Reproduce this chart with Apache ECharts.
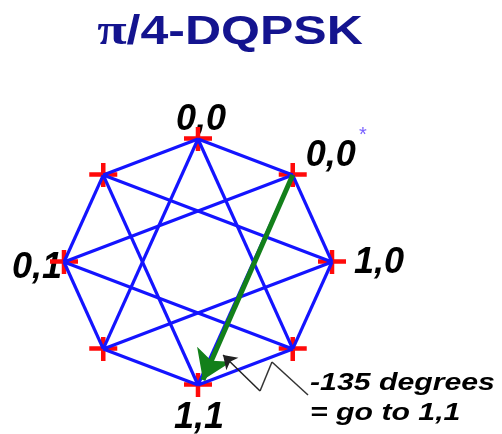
<!DOCTYPE html>
<html>
<head>
<meta charset="utf-8">
<script src="https://cdn.jsdelivr.net/npm/echarts@6/dist/echarts.min.js"></script>
<style>
html,body{margin:0;padding:0;background:#fff;}
#chart{width:502px;height:434px;}
</style>
</head>
<body>
<div id="chart"></div>
<script>
// Constellation points (I, Q) in order: top, top-right, right, bottom-right, bottom, bottom-left, left, top-left
const points = [[0, 1], [0.707, 0.707], [1, 0], [0.707, -0.707], [0, -1], [-0.707, -0.707], [-1, 0], [-0.707, 0.707]];
const pointLabels = ['0,0', '0,0', '1,0', '', '1,1', '', '0,1', ''];
// Transitions drawn between points (index pairs)
const octagonEdges = [[0, 1], [1, 2], [2, 3], [3, 4], [4, 5], [5, 6], [6, 7], [7, 0]];
const starEdges = [[0, 3], [3, 6], [6, 1], [1, 4], [4, 7], [7, 2], [2, 5], [5, 0]];
// Highlighted transition (-135 degrees): from point 1 to point 4
const transition = [1, 4];
const titleText = 'π/4-DQPSK';
const noteLines = ['-135 degrees', '= go to 1,1'];

// styling (separate from data)
const labelOffsets = [[3, -19], [38, -19], [47, 1], [0, 0], [1, 33], [0, 0], [-27, 6], [0, 0]];

const chart = echarts.init(document.getElementById('chart'), null, {renderer: 'canvas'});

const edgeData = octagonEdges.concat(starEdges).map(e => ({coords: [points[e[0]], points[e[1]]]}));

// arrow tip stops just short of the target point
const pFrom = points[transition[0]], pTo = points[transition[1]];
const arrowEnd = [pTo[0] + 0.037, pTo[1] + 0.041];

const labelData = points.map((p, i) => ({
  value: p,
  label: {show: pointLabels[i] !== '', formatter: pointLabels[i], offset: labelOffsets[i]}
}));

const labelFont = {fontFamily: 'Liberation Sans', fontWeight: 'bold', fontStyle: 'italic', fontSize: 36, color: '#000', opacity: 1};

const option = {
  animation: false,
  backgroundColor: '#fff',
  grid: {left: 10.4, top: 114.4, width: 375.2, height: 295.2},
  xAxis: {type: 'value', min: -1.4, max: 1.4, show: false},
  yAxis: {type: 'value', min: -1.2, max: 1.2, show: false},
  series: [
    {
      type: 'scatter', z: 1, symbolSize: 0, silent: true,
      itemStyle: {opacity: 1},
      label: Object.assign({position: 'inside', align: 'center', verticalAlign: 'middle'}, labelFont),
      data: labelData
    },
    {
      type: 'scatter', z: 2, silent: true,
      symbol: 'path://M0,9.25H28V13.75H0Z M11.75,0H16.25V24H11.75Z',
      symbolSize: [28, 24],
      itemStyle: {color: '#ff0a0a', opacity: 1},
      data: points
    },
    {
      type: 'lines', coordinateSystem: 'cartesian2d', z: 3, silent: true,
      symbol: 'none',
      lineStyle: {color: '#1414ff', width: 3.2, opacity: 1},
      data: edgeData
    },
    {
      type: 'lines', coordinateSystem: 'cartesian2d', z: 4, silent: true,
      symbol: ['none', 'arrow'], symbolSize: 28,
      lineStyle: {color: '#13801a', width: 5, opacity: 1},
      data: [{coords: [pFrom, arrowEnd]}]
    },
    {
      type: 'lines', coordinateSystem: 'cartesian2d', z: 4, silent: true,
      symbol: ['none', 'arrow'], symbolSize: 13,
      lineStyle: {color: '#222', width: 1.5, opacity: 1},
      data: [{coords: [[0.463, -1.049], [0.187, -0.756]]}]
    },
    {
      type: 'lines', coordinateSystem: 'cartesian2d', z: 4, silent: true,
      symbol: 'none',
      lineStyle: {color: '#333', width: 1.5, opacity: 1},
      data: [
        {coords: [[0.463, -1.049], [0.552, -0.813]]},
        {coords: [[0.552, -0.813], [0.821, -1.081]]}
      ]
    }
  ],
  graphic: [
    {
      type: 'text', x: 230, y: 33, scaleX: 1.22, z: 10,
      style: {
        text: '{p|π}/4-DQPSK', fill: '#14148f',
        fontFamily: 'Liberation Sans', fontWeight: 'bold', fontSize: 41,
        align: 'center', verticalAlign: 'middle',
        rich: {p: {fontFamily: 'Liberation Serif', fontWeight: 'bold', fontSize: 44, fill: '#14148f'}}
      }
    },
    {
      type: 'text', x: 363, y: 135, z: 10,
      style: {text: '*', fill: '#7a62ff', fontFamily: 'Liberation Sans', fontSize: 20, align: 'center', verticalAlign: 'middle'}
    },
    {
      type: 'text', x: 310, y: 383, scaleX: 1.26, z: 10,
      style: {text: noteLines[0], fill: '#000', fontFamily: 'Liberation Sans', fontWeight: 'bold', fontStyle: 'italic', fontSize: 24, align: 'left', verticalAlign: 'middle'}
    },
    {
      type: 'text', x: 310, y: 413, scaleX: 1.26, z: 10,
      style: {text: noteLines[1], fill: '#000', fontFamily: 'Liberation Sans', fontWeight: 'bold', fontStyle: 'italic', fontSize: 24, align: 'left', verticalAlign: 'middle'}
    }
  ]
};
chart.setOption(option);
</script>
</body>
</html>
